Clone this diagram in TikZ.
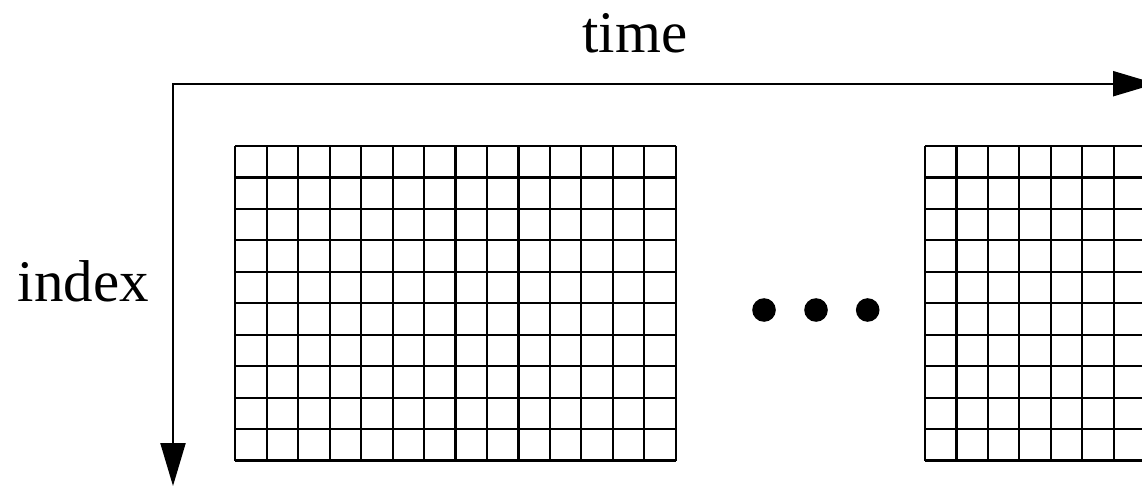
\documentclass[tikz,border=0pt]{standalone}
\usepackage{fontspec}
\setmainfont{Liberation Serif}
\usetikzlibrary{arrows.meta}
\begin{document}
\begin{tikzpicture}[x=1pt,y=-1pt,
  axis/.style={line width=2.2pt,{Triangle[length=43pt,width=25pt]}-{Triangle[length=43pt,width=25pt]}},
  gridline/.style={line width=2.2pt},
  dot/.style={fill=black},
  lbl/.style={inner sep=0pt,anchor=base,font=\fontsize{59}{70}\selectfont}]
\useasboundingbox (0,0) rectangle (1142,486);
\clip (0,0) rectangle (1142,486);
\coordinate (corner) at (173,83.7);
\coordinate (hend) at (1156,83.7);
\coordinate (vend) at (173,486);
\draw[axis] (vend) -- (corner) -- (hend);
\node[lbl] (time) at (635,52.7) {time};
\node[lbl] (index) at (83.5,301.7) {index};
% grid 1
\foreach \i in {0,...,14} \draw[gridline] (235.3+\i*31.46,146) -- (235.3+\i*31.46,460.5);
\foreach \j in {0,...,10} \draw[gridline] (235.3,146+\j*31.45) -- (675.7,146+\j*31.45);
% grid 2
\foreach \i in {0,...,14} \draw[gridline] (925+\i*31.46,146) -- (925+\i*31.46,460.5);
\foreach \j in {0,...,10} \draw[gridline] (925,146+\j*31.45) -- (1365.4,146+\j*31.45);
% dots
\fill[dot] (764,310) circle (11.8);
\fill[dot] (816,310) circle (11.8);
\fill[dot] (867.7,310) circle (11.8);
\end{tikzpicture}
\end{document}
